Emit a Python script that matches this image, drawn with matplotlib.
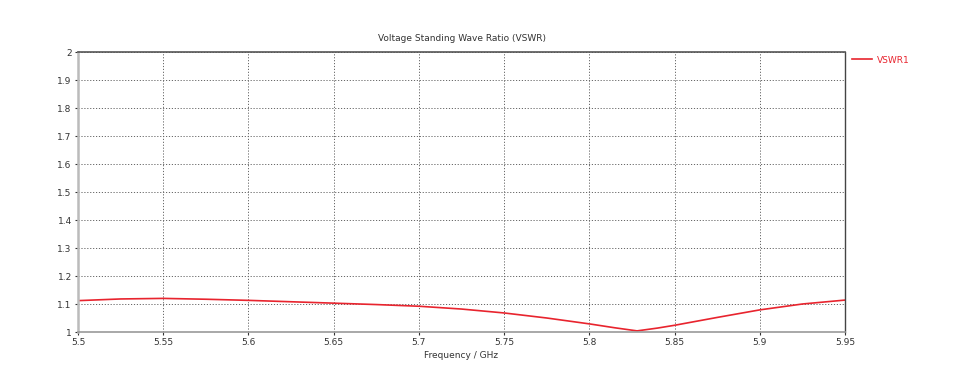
import matplotlib.pyplot as plt
from matplotlib.lines import Line2D

freq = [5.50, 5.525, 5.55, 5.575, 5.60, 5.625, 5.65, 5.675, 5.70, 5.725, 5.75,
        5.775, 5.80, 5.815, 5.828, 5.84, 5.85, 5.875, 5.90, 5.925, 5.95]
vswr = [1.112, 1.118, 1.120, 1.117, 1.113, 1.108, 1.103, 1.098, 1.092, 1.082, 1.068,
        1.050, 1.029, 1.015, 1.004, 1.014, 1.024, 1.052, 1.079, 1.100, 1.114]

xticks = [5.5, 5.55, 5.6, 5.65, 5.7, 5.75, 5.8, 5.85, 5.9, 5.95]
xlabels = ["5.5", "5.55", "5.6", "5.65", "5.7", "5.75", "5.8", "5.85", "5.9", "5.95"]
yticks = [1, 1.1, 1.2, 1.3, 1.4, 1.5, 1.6, 1.7, 1.8, 1.9, 2]
ylabels = ["1", "1.1", "1.2", "1.3", "1.4", "1.5", "1.6", "1.7", "1.8", "1.9", "2"]

fig = plt.figure(figsize=(9.66, 3.68), dpi=100)
ax = fig.add_axes([78 / 966, 1 - 332 / 368, (845 - 78) / 966, (332 - 52) / 368])

ax.plot(freq, vswr, color="#e8242e", lw=1.2)
ax.set_xlim(5.5, 5.95)
ax.set_ylim(1, 2)
ax.set_xticks(xticks, xlabels)
ax.set_yticks(yticks, ylabels)
ax.tick_params(labelsize=6.5, length=2.5, width=0.8, color="#333333",
               labelcolor="#333333", pad=2)
ax.grid(True, color="#666666", ls=(0, (1.2, 1.8)), lw=0.7)

ax.spines["left"].set_color("#bbbbbb")
ax.spines["left"].set_linewidth(1.8)
ax.spines["bottom"].set_color("#999999")
ax.spines["bottom"].set_linewidth(1.2)
ax.spines["top"].set_color("#555555")
ax.spines["top"].set_linewidth(1.2)
ax.spines["right"].set_color("#444444")
ax.spines["right"].set_linewidth(1.0)

ax.set_title("Voltage Standing Wave Ratio (VSWR)", fontsize=6.5, pad=8, color="#333333")
ax.set_xlabel("Frequency / GHz", fontsize=6.5, labelpad=3, color="#333333")

handle = Line2D([], [], color="#e8242e", lw=1.2)
leg = ax.legend([handle], ["VSWR1"], loc="upper left", bbox_to_anchor=(1.005, 1.0),
                frameon=False, fontsize=6.5, handlelength=2.2, handletextpad=0.5,
                borderaxespad=0)
for t in leg.get_texts():
    t.set_color("#e8242e")

fig.savefig("out.png", dpi=100)
